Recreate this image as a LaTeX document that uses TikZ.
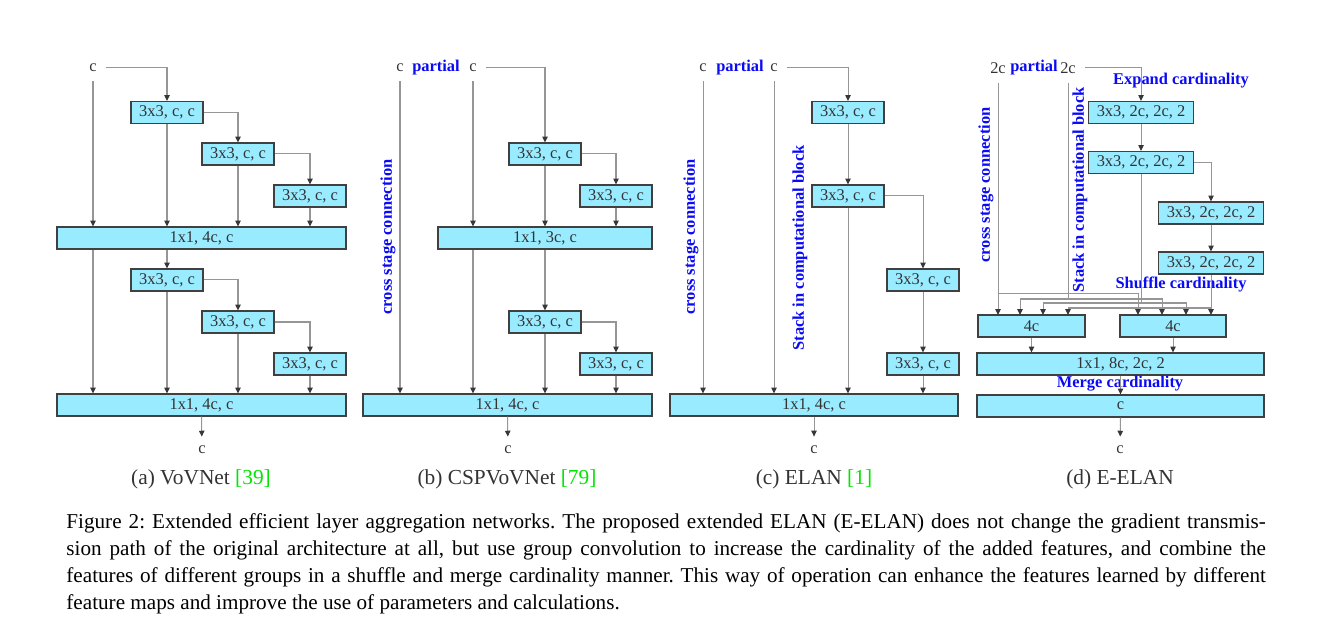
\documentclass[tikz,border=0pt]{standalone}
\usepackage{fontspec}
\setmainfont{Liberation Serif}
\usetikzlibrary{arrows.meta, positioning, calc}
\definecolor{boxcyan}{RGB}{153, 235, 255}
\definecolor{boxedge}{RGB}{64, 64, 64}
\definecolor{linegray}{RGB}{150, 150, 150}
\definecolor{tipdark}{RGB}{55, 55, 55}
\definecolor{labblue}{RGB}{10, 10, 245}
\definecolor{citegreen}{RGB}{0, 230, 0}
\frenchspacing

\begin{document}
\begin{tikzpicture}[x=0.4444pt, y=-0.4444pt,
  wd/.style={minimum width=#1*0.4444pt},
  blk/.style={draw=boxedge, fill=boxcyan, line width=0.5pt, minimum height=9.8pt, inner sep=0pt, text=black!80, font=\fontsize{7.3}{8}\selectfont},
  arr/.style={draw=linegray, line width=0.45pt, -{Triangle[length=2.6pt, width=2.4pt, color=tipdark]}},
  lbl/.style={inner sep=4pt, text=black!80, font=\fontsize{7.3}{8}\selectfont},
  note/.style={inner sep=1pt, text=labblue, font=\bfseries\fontsize{7.3}{8}\selectfont},
  sub/.style={inner sep=1pt, text=black!80, font=\fontsize{9.5}{11}\selectfont}]
  \useasboundingbox (0,0) rectangle (1322,641);

  % (a) VoVNet
  \node[lbl] (ain) at (93,68) {c};
  \node[blk, wd=72] (a1) at (167,112.5) {3x3, c, c};
  \node[blk, wd=72] (a2) at (238,154) {3x3, c, c};
  \node[blk, wd=72] (a3) at (310,196) {3x3, c, c};
  \node[blk, wd=289] (a4) at (201.5,238) {1x1, 4c, c};
  \node[blk, wd=72] (a5) at (167,280) {3x3, c, c};
  \node[blk, wd=72] (a6) at (238,322) {3x3, c, c};
  \node[blk, wd=72] (a7) at (310,364) {3x3, c, c};
  \node[blk, wd=289] (a8) at (201.5,405) {1x1, 4c, c};
  \node[lbl] (aout) at (202,450) {c};
  \node[sub] (acap) at (201,479) {(a) VoVNet \textcolor{citegreen}{[39]}};

  \draw[arr] (ain.east) -| (a1.north);
  \draw[arr] (a1.east) -| (a2.north);
  \draw[arr] (a2.east) -| (a3.north);
  \draw[arr] (ain.south) -- (ain.south |- a4.north);
  \foreach \n in {a1,a2,a3} {
    \draw[arr] (\n.south) -- (\n.south |- a4.north);
  }
  \draw[arr] (ain.south |- a4.south) -- (ain.south |- a8.north);
  \draw[arr] (a5 |- a4.south) -- (a5.north);
  \draw[arr] (a5.east) -| (a6.north);
  \draw[arr] (a6.east) -| (a7.north);
  \foreach \n in {a5,a6,a7} {
    \draw[arr] (\n.south) -- (\n.south |- a8.north);
  }
  \draw[arr] (a8.south) -- (aout);

  % (b) CSPVoVNet
  \node[lbl] (bin1) at (400,68) {c};
  \node[note] (bpart) at (436,68) {partial};
  \node[lbl] (bin2) at (473,68) {c};
  \node[blk, wd=72] (b1) at (545,154) {3x3, c, c};
  \node[blk, wd=72] (b2) at (616,196) {3x3, c, c};
  \node[blk, wd=214] (b3) at (545,238) {1x1, 3c, c};
  \node[blk, wd=72] (b4) at (545,322) {3x3, c, c};
  \node[blk, wd=72] (b5) at (616,364) {3x3, c, c};
  \node[blk, wd=289] (b6) at (507.5,405) {1x1, 4c, c};
  \node[lbl] (bout) at (508,450) {c};
  \node[note, rotate=90] (bcross) at (388,237) {cross stage connection};
  \node[sub] (bcap) at (507,479) {(b) CSPVoVNet \textcolor{citegreen}{[79]}};

  \draw[arr] (bin2.east) -| (b1.north);
  \draw[arr] (b1.east) -| (b2.north);
  \draw[arr] (bin1.south) -- (bin1.south |- b6.north);
  \draw[arr] (bin2.south) -- (bin2.south |- b3.north);
  \foreach \n in {b1,b2} {
    \draw[arr] (\n.south) -- (\n.south |- b3.north);
  }
  \draw[arr] (bin2.south |- b3.south) -- (bin2.south |- b6.north);
  \draw[arr] (b4 |- b3.south) -- (b4.north);
  \draw[arr] (b4.east) -| (b5.north);
  \foreach \n in {b4,b5} {
    \draw[arr] (\n.south) -- (\n.south |- b6.north);
  }
  \draw[arr] (b6.south) -- (bout);

  % (c) ELAN
  \node[lbl] (cin1) at (703,68) {c};
  \node[note] (cpart) at (740,68) {partial};
  \node[lbl] (cin2) at (774,68) {c};
  \node[blk, wd=72] (c1) at (848,112.5) {3x3, c, c};
  \node[blk, wd=72] (c2) at (848,196) {3x3, c, c};
  \node[blk, wd=72] (c3) at (923,280) {3x3, c, c};
  \node[blk, wd=72] (c4) at (923,364) {3x3, c, c};
  \node[blk, wd=288] (c5) at (814,405) {1x1, 4c, c};
  \node[lbl] (cout) at (814,450) {c};
  \node[note, rotate=90] (ccross) at (691,237) {cross stage connection};
  \node[note, rotate=90] (cstack) at (800,248) {Stack in computational block};
  \node[sub] (ccap) at (814,479) {(c) ELAN \textcolor{citegreen}{[1]}};

  \draw[arr] (cin2.east) -| (c1.north);
  \draw[arr] (c2.east) -| (c3.north);
  \draw[arr] (c1.south) -- (c2.north);
  \draw[arr] (c3.south) -- (c4.north);
  \foreach \n in {cin1,cin2,c2,c4} {
    \draw[arr] (\n.south) -- (\n.south |- c5.north);
  }
  \draw[arr] (c5.south) -- (cout);

  % (d) E-ELAN
  \node[lbl] (din1) at (998,68) {2c};
  \node[note] (dpart) at (1034,68) {partial};
  \node[lbl] (din2) at (1068,68) {2c};
  \node[note] (dexp) at (1181,81) {Expand cardinality};
  \node[blk, wd=105] (d1) at (1141,112.5) {3x3, 2c, 2c, 2};
  \node[blk, wd=105] (d2) at (1141,162.5) {3x3, 2c, 2c, 2};
  \node[blk, wd=105] (d3) at (1211,213) {3x3, 2c, 2c, 2};
  \node[blk, wd=105] (d4) at (1211,263) {3x3, 2c, 2c, 2};
  \node[note, rotate=90] (dcross) at (986,185) {cross stage connection};
  \node[note, rotate=90] (dstack) at (1080,190) {Stack in computational block};
  \node[note] (dshuf) at (1181,284) {Shuffle cardinality};
  \node[blk, wd=107] (d5) at (1031.5,326) {4c};
  \node[blk, wd=106] (d6) at (1173,326) {4c};
  \node[blk, wd=287] (d7) at (1120.5,364) {1x1, 8c, 2c, 2};
  \node[note] (dmerge) at (1120,384) {Merge cardinality};
  \node[blk, wd=287] (d8) at (1120.5,406) {c};
  \node[lbl] (dout) at (1120,450) {c};
  \node[sub] (dcap) at (1120,479) {(d) E-ELAN};

  \draw[arr] (din2.east) -| (d1.north);
  \draw[arr] (d1.south) -- (d2.north);
  \draw[arr] (d2.east) -| (d3.north);
  \draw[arr] (d3.south) -- (d4.north);

  % shuffle rails and group inputs
  \coordinate (h1) at (0,294);
  \coordinate (h2) at (0,299);
  \coordinate (h3) at (0,303);
  \coordinate (h4) at (0,308);
  \foreach \x [count=\i] in {998,1020,1043,1068} {
    \coordinate (l\i) at (\x,315);
  }
  \foreach \x [count=\i] in {1138,1162,1186,1211} {
    \coordinate (r\i) at (\x,315);
  }
  \draw[arr] (din1.south) -- (l1);
  \draw[arr] (din1.south |- h1) -| (r1);
  \draw[arr] (din2.south) |- (l2 |- h2) -- (l2);
  \draw[arr] (din2.south |- h2) -| (r2);
  \draw[arr] (d2.south) |- (l3 |- h3) -- (l3);
  \draw[arr] (d2.south |- h3) -| (r3);
  \draw[arr] (d4.south) -- (r4);
  \draw[arr] (d4.south |- h4) -| (l4);

  \draw[arr] (d5.south) -- (d5.south |- d7.north);
  \draw[arr] (d6.south) -- (d6.south |- d7.north);
  \draw[arr] (d7.south) -- (d8.north);
  \draw[arr] (d8.south) -- (dout);

  % caption
  \node[anchor=north west, text width=533pt, align=justify, inner sep=0pt, font=\fontsize{9.4}{12}\selectfont] (fig) at (66,513) {Figure 2: Extended efficient layer aggregation networks. The proposed extended ELAN (E-ELAN) does not change the gradient transmis-\linebreak sion path of the original architecture at all, but use group convolution to increase the cardinality of the added features, and combine the\linebreak features of different groups in a shuffle and merge cardinality manner. This way of operation can enhance the features learned by different\linebreak feature maps and improve the use of parameters and calculations.};
\end{tikzpicture}
\end{document}
